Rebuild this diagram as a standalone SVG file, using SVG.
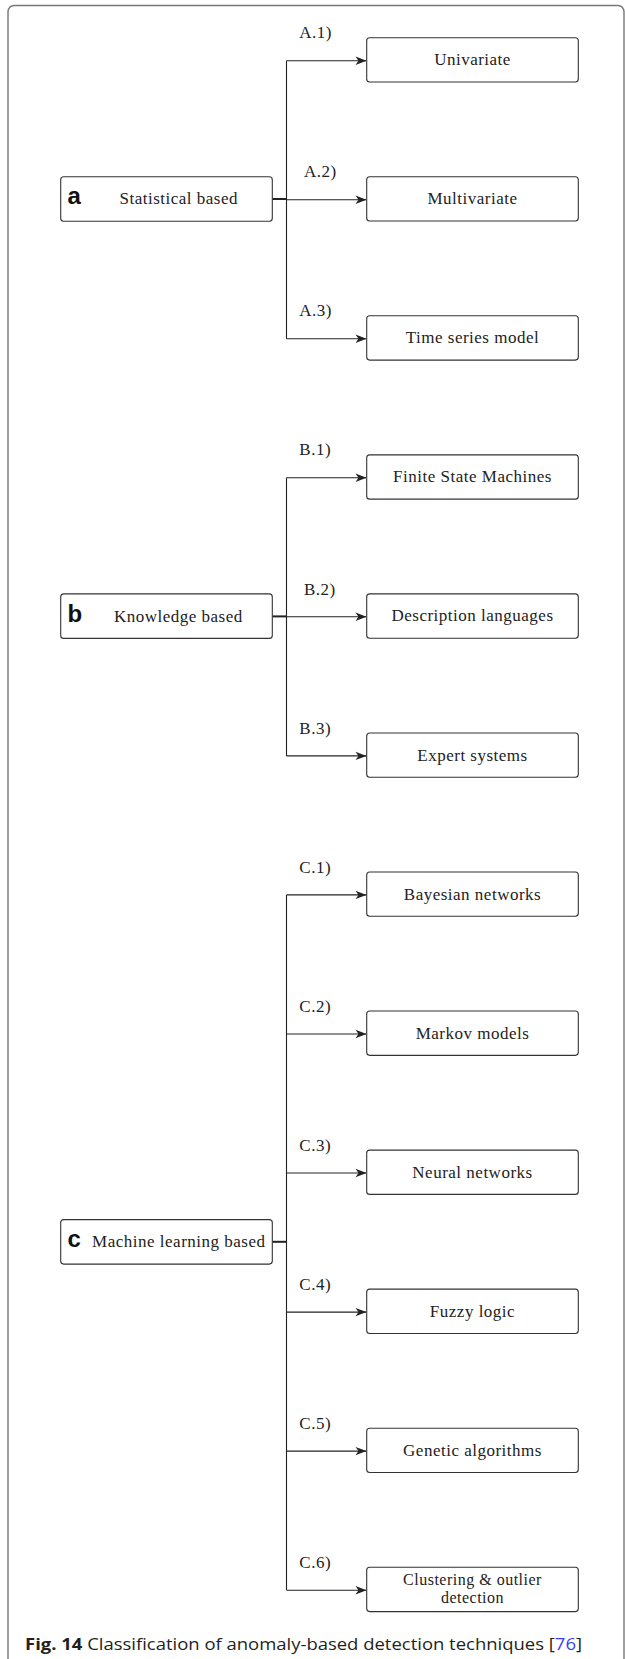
<svg xmlns="http://www.w3.org/2000/svg" width="625" height="1659" viewBox="0 0 625 1659">
<style>
.box{fill:#fff;stroke:#333;stroke-width:1.1}
.t{font-family:"Liberation Serif",serif;font-size:17px;letter-spacing:0.5px;fill:#222;text-anchor:middle}
.t2{font-family:"Liberation Serif",serif;font-size:16px;letter-spacing:0.5px;fill:#222;text-anchor:middle}
.lbl{font-family:"Liberation Serif",serif;font-size:17px;letter-spacing:0.5px;fill:#222}
.tag{font-family:"Liberation Sans",Arial,sans-serif;font-size:24px;font-weight:bold;fill:#111}
.ln{fill:none;stroke:#222;stroke-width:1.1}
.pl{fill:none;stroke:#222;stroke-width:2}
.cap{font-family:"Open Sans","Noto Sans",sans-serif;font-size:16px;fill:#231f20}
</style>
<defs>
<marker id="arr" markerUnits="userSpaceOnUse" markerWidth="13" markerHeight="10" refX="12" refY="5" orient="auto">
<path d="M1,0.8 L12,5 L1,9.2 L4,5 z" fill="#222"/>
</marker>
</defs>
<rect x="8" y="5.5" width="616" height="1700" rx="6" fill="none" stroke="#777" stroke-width="1.4"/>
<g id="connectors">
<path class="ln" d="M286.5,60.7 V338.8"/>
<path class="pl" d="M272.3,199 H286.5"/>
<path class="ln" d="M286.5,60.7 H366.5" marker-end="url(#arr)"/>
<path class="ln" d="M286.5,199.7 H366.5" marker-end="url(#arr)"/>
<path class="ln" d="M286.5,338.8 H366.5" marker-end="url(#arr)"/>
<path class="ln" d="M286.5,477.8 V755.9"/>
<path class="pl" d="M272.3,616.4 H286.5"/>
<path class="ln" d="M286.5,477.8 H366.5" marker-end="url(#arr)"/>
<path class="ln" d="M286.5,616.8 H366.5" marker-end="url(#arr)"/>
<path class="ln" d="M286.5,755.9 H366.5" marker-end="url(#arr)"/>
<path class="ln" d="M286.5,894.9 V1590"/>
<path class="pl" d="M272.3,1241.8 H286.5"/>
<path class="ln" d="M286.5,894.9 H366.5" marker-end="url(#arr)"/>
<path class="ln" d="M286.5,1034 H366.5" marker-end="url(#arr)"/>
<path class="ln" d="M286.5,1173 H366.5" marker-end="url(#arr)"/>
<path class="ln" d="M286.5,1312.1 H366.5" marker-end="url(#arr)"/>
<path class="ln" d="M286.5,1451.1 H366.5" marker-end="url(#arr)"/>
<path class="ln" d="M286.5,1590.2 H366.5" marker-end="url(#arr)"/>
<text class="lbl" x="299.3" y="38.3">A.1)</text>
<text class="lbl" x="304" y="177.3">A.2)</text>
<text class="lbl" x="299.3" y="316.4">A.3)</text>
<text class="lbl" x="299.3" y="455.4">B.1)</text>
<text class="lbl" x="304" y="594.5">B.2)</text>
<text class="lbl" x="299.3" y="733.5">B.3)</text>
<text class="lbl" x="299.3" y="872.6">C.1)</text>
<text class="lbl" x="299.3" y="1011.6">C.2)</text>
<text class="lbl" x="299.3" y="1150.7">C.3)</text>
<text class="lbl" x="299.3" y="1289.7">C.4)</text>
<text class="lbl" x="299.3" y="1428.8">C.5)</text>
<text class="lbl" x="299.3" y="1567.8">C.6)</text>
</g>
<g id="statistical">
<rect class="box" x="60.7" y="176.7" width="211.6" height="44.5" rx="3"/>
<text class="tag" x="67.5" y="204.3">a</text>
<text class="t" x="178.8" y="204.3">Statistical based</text>
</g>
<g id="knowledge">
<rect class="box" x="60.7" y="593.9" width="211.6" height="44.5" rx="3"/>
<text class="tag" x="67.5" y="621.5">b</text>
<text class="t" x="178.3" y="621.5">Knowledge based</text>
</g>
<g id="machine-learning">
<rect class="box" x="60.7" y="1219.6" width="211.6" height="44.5" rx="3"/>
<text class="tag" x="67.5" y="1247.2">c</text>
<text class="t" x="178.8" y="1247.2">Machine learning based</text>
</g>
<g id="univariate"><rect class="box" x="366.7" y="37.7" width="211.6" height="44.3" rx="3"/><text class="t" x="472.5" y="65.2">Univariate</text></g>
<g id="multivariate"><rect class="box" x="366.7" y="176.75" width="211.6" height="44.3" rx="3"/><text class="t" x="472.5" y="204.3">Multivariate</text></g>
<g id="time-series"><rect class="box" x="366.7" y="315.8" width="211.6" height="44.3" rx="3"/><text class="t" x="472.5" y="343.3">Time series model</text></g>
<g id="fsm"><rect class="box" x="366.7" y="454.85" width="211.6" height="44.3" rx="3"/><text class="t" x="472.5" y="482.4">Finite State Machines</text></g>
<g id="description"><rect class="box" x="366.7" y="593.9" width="211.6" height="44.3" rx="3"/><text class="t" x="472.5" y="621.4">Description languages</text></g>
<g id="expert"><rect class="box" x="366.7" y="732.95" width="211.6" height="44.3" rx="3"/><text class="t" x="472.5" y="760.5">Expert systems</text></g>
<g id="bayesian"><rect class="box" x="366.7" y="872" width="211.6" height="44.3" rx="3"/><text class="t" x="472.5" y="899.5">Bayesian networks</text></g>
<g id="markov"><rect class="box" x="366.7" y="1011.05" width="211.6" height="44.3" rx="3"/><text class="t" x="472.5" y="1038.6">Markov models</text></g>
<g id="neural"><rect class="box" x="366.7" y="1150.1" width="211.6" height="44.3" rx="3"/><text class="t" x="472.5" y="1177.6">Neural networks</text></g>
<g id="fuzzy"><rect class="box" x="366.7" y="1289.15" width="211.6" height="44.3" rx="3"/><text class="t" x="472.5" y="1316.7">Fuzzy logic</text></g>
<g id="genetic"><rect class="box" x="366.7" y="1428.2" width="211.6" height="44.3" rx="3"/><text class="t" x="472.5" y="1455.7">Genetic algorithms</text></g>
<g id="clustering"><rect class="box" x="366.7" y="1567.3" width="211.6" height="44.3" rx="3"/><text class="t2" x="472.5" y="1585.3">Clustering &amp; outlier</text><text class="t2" x="472.5" y="1603">detection</text></g>
<text class="cap" x="25" y="1650" textLength="557" lengthAdjust="spacingAndGlyphs"><tspan font-weight="bold">Fig. 14</tspan> Classification of anomaly-based detection techniques [<tspan fill="#3b3bff">76</tspan>]</text>
</svg>
